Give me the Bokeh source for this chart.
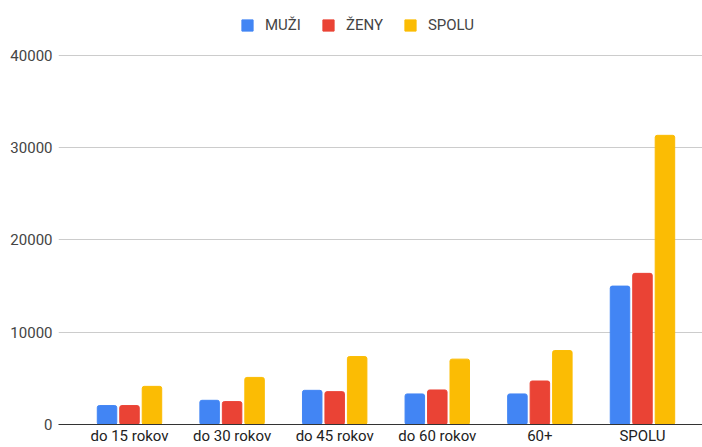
from bokeh.plotting import figure
from bokeh.models import ColumnDataSource, Range1d, FixedTicker, Legend, LegendItem, BasicTickFormatter
from bokeh.embed import file_html
from bokeh.resources import INLINE
from bokeh.transform import dodge

categories = ["do 15 rokov", "do 30 rokov", "do 45 rokov", "do 60 rokov", "60+", "SPOLU"]
muzi = [2050, 2620, 3700, 3310, 3310, 14990]
zeny = [2050, 2480, 3560, 3740, 4710, 16370]
spolu = [4130, 5100, 7360, 7080, 8010, 31320]
series_names = ["MUŽI", "ŽENY", "SPOLU"]
series_keys = ["muzi", "zeny", "spolu"]
colors = ["#4285F4", "#EA4335", "#FBBC04"]
y_ticks = [0, 10000, 20000, 30000, 40000]

FONT = "Roboto"

src = ColumnDataSource(dict(x=list(range(len(categories))), muzi=muzi, zeny=zeny, spolu=spolu))

# y range extended upward so the legend area above the 40000 line lies inside the frame
p = figure(width=702, height=447, output_backend="svg", toolbar_location=None,
           x_range=Range1d(-0.692, 5.585), y_range=Range1d(0, 45924),
           min_border_left=58, min_border_right=0, min_border_top=0, min_border_bottom=14)
p.outline_line_color = None
p.background_fill_color = "white"
p.border_fill_color = "white"

offsets = [-0.219, 0.0, 0.219]
renderers = []
for key, col, off in zip(series_keys, colors, offsets):
    r = p.vbar(x=dodge("x", off), top=key, width=0.19, source=src,
               fill_color=col, line_color=col, border_radius=2)
    renderers.append(r)

# axes
p.xaxis.ticker = FixedTicker(ticks=list(range(len(categories))))
p.xaxis.major_label_overrides = {i: c for i, c in enumerate(categories)}
p.xaxis.major_tick_line_color = None
p.xaxis.minor_tick_line_color = None
p.xaxis.major_tick_out = 0
p.xaxis.major_tick_in = 0
p.xaxis.minor_tick_out = 0
p.xaxis.minor_tick_in = 0
p.xaxis.axis_label_standoff = 0
p.xaxis.axis_line_color = "#333333"
p.xaxis.axis_line_width = 1
p.xaxis.major_label_text_font = FONT
p.xaxis.major_label_text_font_size = "15px"
p.xaxis.major_label_text_color = "#222222"
p.xaxis.major_label_standoff = 2

p.yaxis.ticker = FixedTicker(ticks=y_ticks)
p.yaxis.formatter = BasicTickFormatter(use_scientific=False)
p.yaxis.axis_line_color = None
p.yaxis.major_tick_line_color = None
p.yaxis.minor_tick_line_color = None
p.yaxis.major_tick_out = 0
p.yaxis.major_tick_in = 0
p.yaxis.minor_tick_out = 0
p.yaxis.minor_tick_in = 0
p.yaxis.axis_label_standoff = 0
p.yaxis.major_label_text_font = FONT
p.yaxis.major_label_text_font_size = "15px"
p.yaxis.major_label_text_color = "#444444"
p.yaxis.major_label_standoff = 6

p.xgrid.grid_line_color = None
p.ygrid.grid_line_color = "#cccccc"
p.ygrid.ticker = FixedTicker(ticks=y_ticks[1:])

legend = Legend(items=[LegendItem(label=n, renderers=[r]) for n, r in zip(series_names, renderers)],
                orientation="horizontal", location=(182, 390),
                glyph_width=14, glyph_height=14, label_standoff=11, spacing=20,
                padding=0, margin=0, border_line_color=None, background_fill_alpha=0,
                label_text_font=FONT, label_text_font_size="15px", label_text_color="#444444",
                label_height=14)
p.add_layout(legend, "center")

open("out.html", "w").write(file_html(p, INLINE))
